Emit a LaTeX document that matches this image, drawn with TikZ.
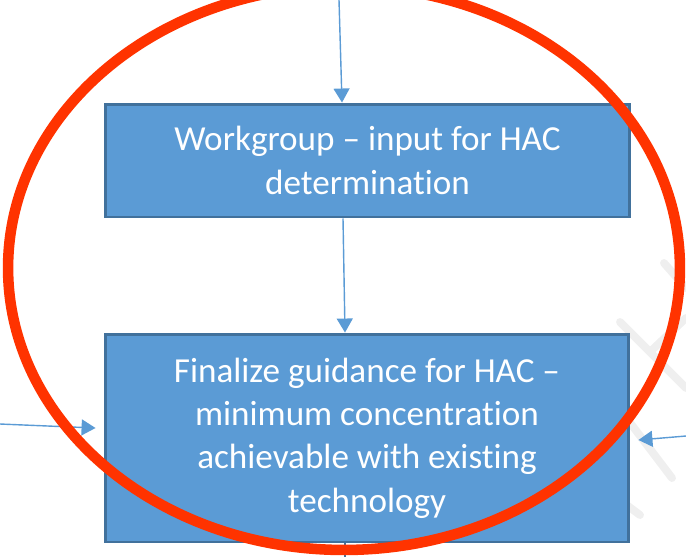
\documentclass[tikz,border=0pt]{standalone}
\usepackage{fontspec}
\setmainfont{Carlito}[Ligatures=NoCommon]
\usepackage{xcolor}
\usetikzlibrary{arrows.meta}

\definecolor{boxblue}{HTML}{5B9BD5}
\definecolor{boxedge}{HTML}{41719C}
\definecolor{markred}{HTML}{FF3300}
\definecolor{wmgray}{HTML}{EFEFEF}

\tikzset{
    stepbox/.style={draw=boxedge, line width=1.7pt, fill=boxblue, text=white,
        align=center, inner sep=0pt, font=\fontsize{20}{24.6}\selectfont},
    flow/.style={draw=boxblue, line width=0.8pt, -{Triangle[width=0.32cm, length=0.28cm]}}
}

\begin{document}
\begin{tikzpicture}[x=0.02cm, y=-0.02cm]
    \useasboundingbox (0,0) rectangle (686,556);
    \clip (0,0) rectangle (686,556);
    %\draw[help lines, step=50] (0,0) grid (686,556);
    % faint watermark strokes
    \draw[wmgray, line width=4.5pt, line cap=round] (664,263) -- (686,288);
    \draw[wmgray, line width=4.5pt, line cap=round] (620,322) -- (686,388);
    \draw[wmgray, line width=4.5pt, line cap=round] (628,420) -- (672,478);
    \draw[wmgray, line width=4.5pt, line cap=round] (652,350) -- (686,318);
    \draw[wmgray, line width=4.5pt, line cap=round] (620,500) -- (640,515);
    % boxes
    \node[stepbox, minimum width=10.5cm, minimum height=2.26cm]
        (workgroup) at (367.5,160.5) {Workgroup -- input for HAC\\determination};
    \node[stepbox, minimum width=10.48cm, minimum height=4.16cm]
        (finalize) at (367,438) {Finalize guidance for HAC --\\minimum concentration\\achievable with existing\\technology};
    % connectors
    \coordinate (topin) at (339,0);
    \coordinate (leftin) at (0,424);
    \coordinate (rightin) at (686,436);
    \coordinate (bottomout) at (345,560);
    \draw[flow] (topin) -- (workgroup.north -| 342,0);
    \draw[flow] (workgroup.south -| 343,0) -- (finalize.north -| 345,0);
    \draw[flow] (leftin) -- ([xshift=-0.16cm, yshift=0.2cm]finalize.west);
    \draw[flow] (rightin) -- ([xshift=0.16cm, yshift=-0.04cm]finalize.east);
    \draw[boxedge, line width=0.8pt] (finalize.south -| 345,0) -- (bottomout);
    % highlight
    \draw[markred, line width=6pt] (344,268) ellipse (6.72cm and 5.64cm);
\end{tikzpicture}
\end{document}
